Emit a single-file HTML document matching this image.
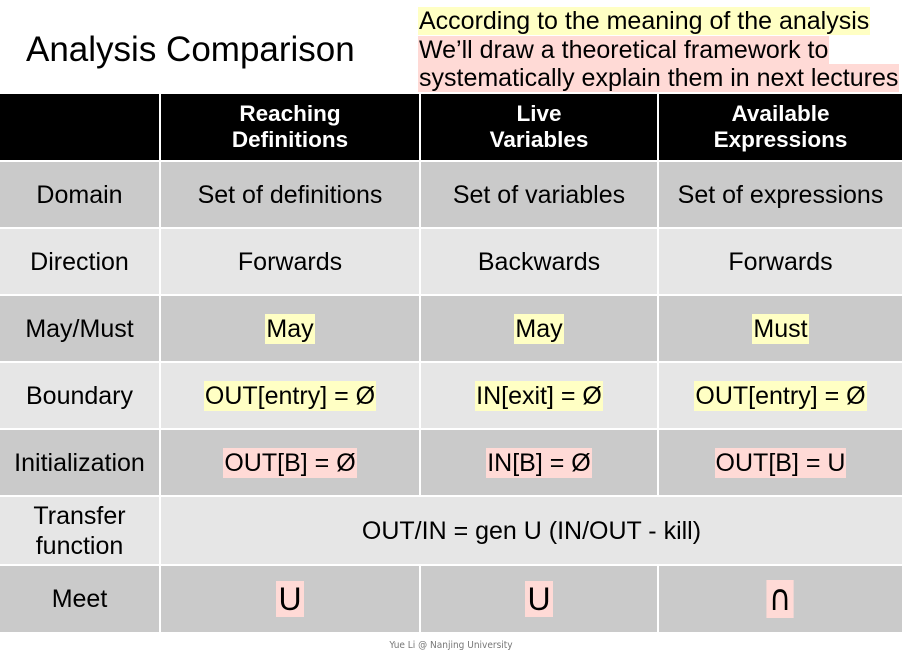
<!DOCTYPE html>
<html><head><meta charset="utf-8"><style>
body{margin:0;width:902px;height:654px;background:#fff;position:relative;overflow:hidden;font-family:"Liberation Sans",sans-serif;}
.c{position:absolute;display:flex;align-items:center;justify-content:center;text-align:center;color:#000;font-size:25px;line-height:30px;}
.h{background:#000;color:#fff;font-weight:bold;font-size:22.5px;line-height:26px;}
.d{background:#cacaca}.l{background:#e6e6e6}
.y{background:#ffffc4;padding:0 1px}.p{background:#ffdad6;padding:0 1px}
.big{font-size:32px;line-height:36px;padding:0 2px}
.cap{font-family:"DejaVu Sans",sans-serif;font-size:36px;line-height:38px;padding:0 3px;display:inline-block;transform:scaleX(0.85)}
</style></head><body>
<div style="position:absolute;left:26px;top:30px;font-size:35px;">Analysis Comparison</div>
<div style="position:absolute;left:418px;top:7px;font-size:25px;line-height:28.5px;white-space:nowrap;">
<span class="y">According to the meaning of the analysis</span><br>
<span class="p">We’ll draw a theoretical framework to</span><br>
<span class="p">systematically explain them in next lectures</span></div>
<div>
<div class="c h" style="left:0;top:94px;width:159px;height:66px"></div>
<div class="c h" style="left:161px;top:94px;width:258px;height:66px">Reaching<br>Definitions</div>
<div class="c h" style="left:421px;top:94px;width:236px;height:66px">Live<br>Variables</div>
<div class="c h" style="left:659px;top:94px;width:243px;height:66px">Available<br>Expressions</div>
</div>
<script>
const rows=[
["Domain","Set of definitions","Set of variables","Set of expressions","d",""],
["Direction","Forwards","Backwards","Forwards","l",""],
["May/Must","May","May","Must","d","y"],
["Boundary","OUT[entry] = Ø","IN[exit] = Ø","OUT[entry] = Ø","l","y"],
["Initialization","OUT[B] = Ø","IN[B] = Ø","OUT[B] = U","d","p"],
["Transfer<br>function","OUT/IN = gen U (IN/OUT - kill)",null,null,"l",""],
["Meet","U","U","∩","d","p big"]];
const tops=[162,229,296,363,430,497,566],hs=[65,65,65,65,65,67,66];
const xs=[0,161,421,659],ws=[159,258,236,243];
rows.forEach((r,i)=>{
 for(let j=0;j<4;j++){
  if(r[j]===null)continue;
  const el=document.createElement('div');
  el.className='c '+r[4];
  let w=ws[j];
  if(i===5&&j===1)w=902-161;
  el.style.cssText=`left:${xs[j]}px;top:${tops[i]}px;width:${w}px;height:${hs[i]}px`;
  let cls=r[5];
  if(r[j]==="∩")cls="p cap";
  el.innerHTML=(j>0&&cls)?`<span class="${cls}">${r[j]}</span>`:r[j];
  
  
  document.body.appendChild(el);
 }
});
</script>
<div style="position:absolute;left:0;width:902px;top:640px;text-align:center;font-size:10px;color:#777;font-family:'DejaVu Sans Condensed','Liberation Sans Narrow',sans-serif;">Yue Li @ Nanjing University</div>
</body></html>
